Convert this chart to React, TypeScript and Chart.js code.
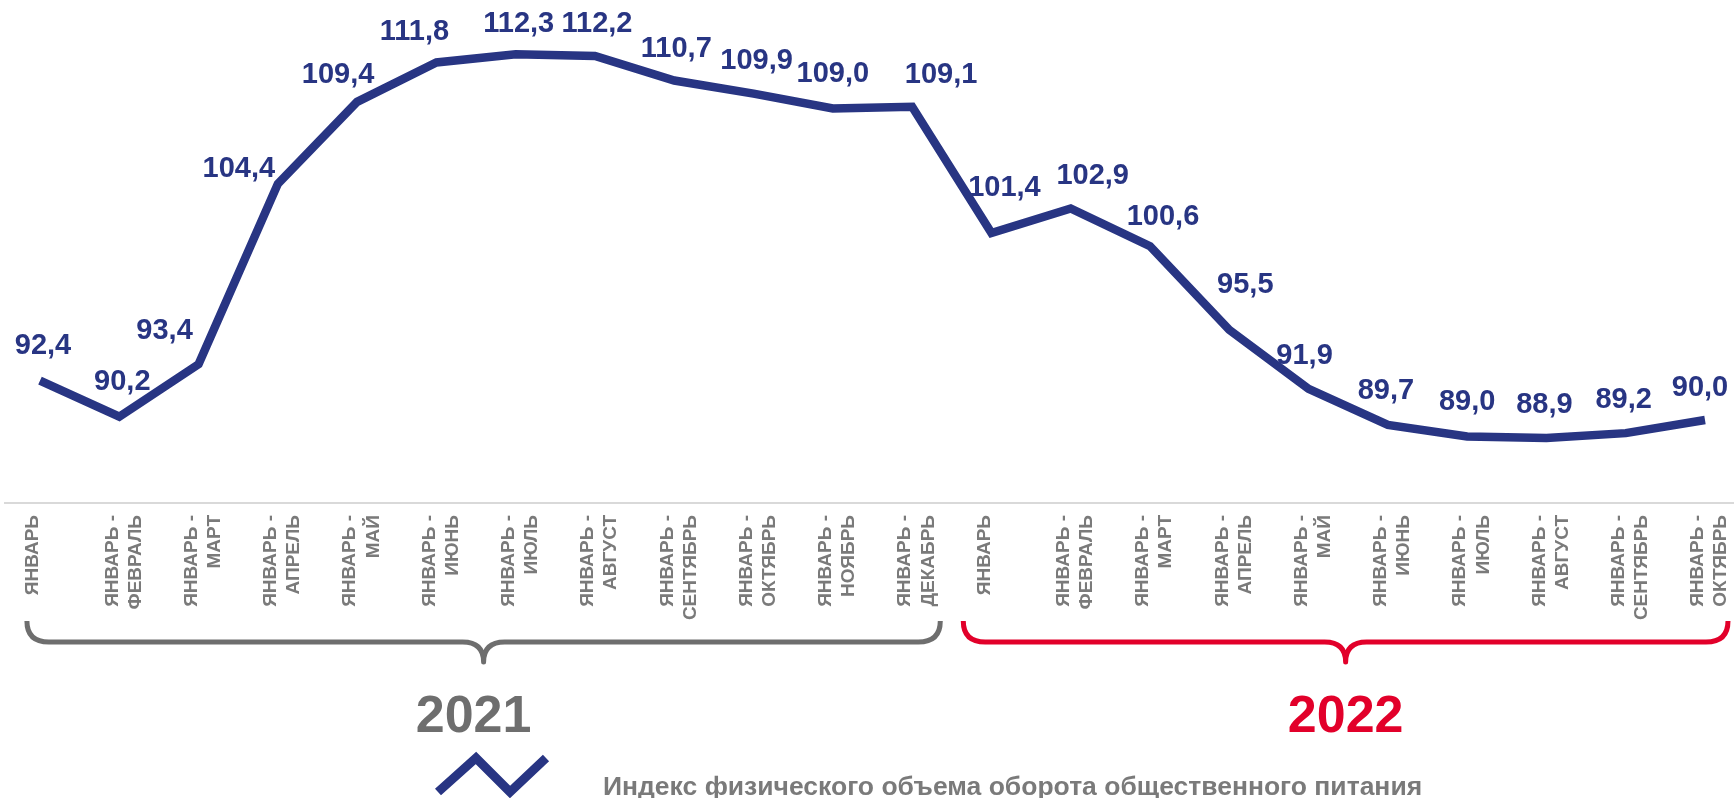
import React, { useEffect, useRef } from "react";
import { Chart, registerables } from "chart.js";

Chart.register(...registerables);

// ---------- data ----------
const categories: string[][] = [
  ["ЯНВАРЬ"],
  ["ЯНВАРЬ -", "ФЕВРАЛЬ"],
  ["ЯНВАРЬ -", "МАРТ"],
  ["ЯНВАРЬ -", "АПРЕЛЬ"],
  ["ЯНВАРЬ -", "МАЙ"],
  ["ЯНВАРЬ -", "ИЮНЬ"],
  ["ЯНВАРЬ -", "ИЮЛЬ"],
  ["ЯНВАРЬ -", "АВГУСТ"],
  ["ЯНВАРЬ -", "СЕНТЯБРЬ"],
  ["ЯНВАРЬ -", "ОКТЯБРЬ"],
  ["ЯНВАРЬ -", "НОЯБРЬ"],
  ["ЯНВАРЬ -", "ДЕКАБРЬ"],
  ["ЯНВАРЬ"],
  ["ЯНВАРЬ -", "ФЕВРАЛЬ"],
  ["ЯНВАРЬ -", "МАРТ"],
  ["ЯНВАРЬ -", "АПРЕЛЬ"],
  ["ЯНВАРЬ -", "МАЙ"],
  ["ЯНВАРЬ -", "ИЮНЬ"],
  ["ЯНВАРЬ -", "ИЮЛЬ"],
  ["ЯНВАРЬ -", "АВГУСТ"],
  ["ЯНВАРЬ -", "СЕНТЯБРЬ"],
  ["ЯНВАРЬ -", "ОКТЯБРЬ"],
];

const values: number[] = [
  92.4, 90.2, 93.4, 104.4, 109.4, 111.8, 112.3, 112.2, 110.7, 109.9, 109.0, 109.1,
  101.4, 102.9, 100.6, 95.5, 91.9, 89.7, 89.0, 88.9, 89.2, 90.0,
];

const yearLabels: string[] = ["2021", "2022"];
const yearFirstIndex: number[] = [0, 12];
const yearLastIndex: number[] = [11, 21];

const seriesName = "Индекс физического объема оборота общественного питания";

const yMin = 85;
const yMax = 115;

// ---------- style ----------
const NAVY = "#283583";
const GREY_TEXT = "#7a7a7a";
const GREY_BRACE = "#6e6e6e";
const RED = "#e2002a";
const yearColors = [GREY_BRACE, RED];
const FONT = '"Liberation Sans", Arial, Helvetica, sans-serif';

// per-label nudges (px) relative to the point, mimicking manual label placement
const labelDX = [3, 3, -34, -39, -19, -22, 3, 2, 2, 3, 0, 29, 13, 22, 13, 16, -4, -2, 0, -2, -2, -5];
const labelDY = [-35, -35, -33, -15, -27, -30, -30, -32, -32, -33, -34, -32, -45, -32, -29, -45, -33, -34, -34, -33, -33, -32];

const fmt = (v: number) => v.toFixed(1).replace(".", ",");

const decorPlugin = {
  id: "decor",
  beforeDatasetsDraw(chart: any) {
    const { ctx, chartArea, width } = chart;
    ctx.save();
    ctx.strokeStyle = "#d9d9d9";
    ctx.lineWidth = 2;
    ctx.beginPath();
    ctx.moveTo(4, chartArea.bottom + 1);
    ctx.lineTo(width, chartArea.bottom + 1);
    ctx.stroke();
    ctx.restore();
  },
  afterDatasetsDraw(chart: any) {
    const { ctx } = chart;
    const meta = chart.getDatasetMeta(0);
    ctx.save();
    ctx.fillStyle = NAVY;
    ctx.font = `bold 29px ${FONT}`;
    ctx.textAlign = "center";
    ctx.textBaseline = "middle";
    meta.data.forEach((pt: any, i: number) => {
      ctx.fillText(fmt(values[i]), pt.x + (labelDX[i] || 0), pt.y + (labelDY[i] ?? -34));
    });
    ctx.restore();
  },
  afterDraw(chart: any) {
    const { ctx } = chart;
    const xs = chart.scales.x;
    const step = xs.getPixelForValue(1) - xs.getPixelForValue(0);
    const endY = 621;
    const lineY = 642;
    const tipY = 662;
    const r = 22;
    const r2 = 21;
    ctx.save();
    yearLabels.forEach((label, k) => {
      const first = xs.getPixelForValue(yearFirstIndex[k]);
      const last = xs.getPixelForValue(yearLastIndex[k]);
      const left = k === 0 ? first - 0.165 * step : first - 0.355 * step;
      const right = k === 0 ? last + 0.355 * step : last + 0.29 * step;
      const c = (left + right) / 2;
      ctx.strokeStyle = yearColors[k];
      ctx.lineWidth = 5;
      ctx.lineCap = "butt";
      ctx.lineJoin = "round";
      ctx.beginPath();
      ctx.moveTo(left, endY);
      ctx.quadraticCurveTo(left, lineY, left + r, lineY);
      ctx.lineTo(c - r2, lineY);
      ctx.quadraticCurveTo(c, lineY, c, tipY);
      ctx.quadraticCurveTo(c, lineY, c + r2, lineY);
      ctx.lineTo(right - r, lineY);
      ctx.quadraticCurveTo(right, lineY, right, endY);
      ctx.stroke();

      ctx.fillStyle = yearColors[k];
      ctx.font = `bold 52px ${FONT}`;
      ctx.textAlign = "center";
      ctx.textBaseline = "alphabetic";
      ctx.fillText(label, k === 0 ? c - 10 : c, 732);
    });

    // legend
    ctx.strokeStyle = NAVY;
    ctx.lineWidth = 9;
    ctx.lineJoin = "miter";
    ctx.lineCap = "butt";
    ctx.beginPath();
    ctx.moveTo(438, 792);
    ctx.lineTo(476, 758);
    ctx.lineTo(510, 792);
    ctx.lineTo(546, 758);
    ctx.stroke();

    ctx.fillStyle = GREY_TEXT;
    ctx.font = `bold 26.5px ${FONT}`;
    ctx.textAlign = "left";
    ctx.textBaseline = "alphabetic";
    ctx.fillText(seriesName, 603, 795);
    ctx.restore();
  },
};

export default function App() {
  const ref = useRef<HTMLCanvasElement | null>(null);
  useEffect(() => {
    if (!ref.current) return;
    const chart = new Chart(ref.current, {
      type: "line",
      data: {
        labels: categories,
        datasets: [
          {
            label: seriesName,
            data: values,
            borderColor: NAVY,
            backgroundColor: NAVY,
            borderWidth: 8.5,
            pointRadius: 0,
            pointHoverRadius: 0,
            tension: 0,
            fill: false,
            borderJoinStyle: "miter",
            borderCapStyle: "butt",
          },
        ],
      },
      options: {
        responsive: false,
        animation: false,
        layout: { padding: { left: 40, right: 29, top: 10, bottom: 0 } },
        plugins: { legend: { display: false }, tooltip: { enabled: false } },
        scales: {
          x: {
            type: "category",
            offset: false,
            grid: { display: false, drawTicks: false },
            border: { display: false },
            ticks: {
              autoSkip: false,
              minRotation: 90,
              maxRotation: 90,
              padding: 13,
              labelOffset: -7,
              color: GREY_TEXT,
              font: { family: FONT, size: 19, weight: "bold", lineHeight: 1.22 },
            },
            afterFit: (s: any) => {
              s.height = 296;
              s.paddingLeft = 0;
              s.paddingRight = 0;
            },
          },
          y: { display: false, min: yMin, max: yMax },
        },
      },
      plugins: [decorPlugin],
    } as any);
    return () => chart.destroy();
  }, []);
  return (
    <div style={{ position: "absolute", left: 0, top: 0, width: 1734, height: 798, background: "#fff" }}>
      <canvas ref={ref} width={1734} height={798} style={{ display: "block" }} />
    </div>
  );
}
